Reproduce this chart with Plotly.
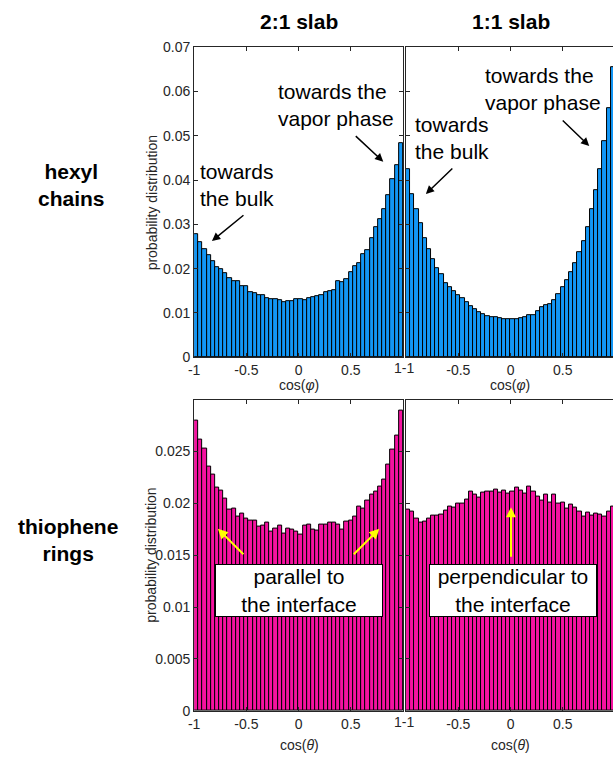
import numpy as np
import plotly.graph_objects as go

W, H = 613, 760

# ---------------- data ----------------
bin_edges = np.linspace(-1, 1, 51)
bin_centers = (bin_edges[:-1] + bin_edges[1:]) / 2

hexyl_21 = [0.0278, 0.0260, 0.0243, 0.0231, 0.0216, 0.0203, 0.0199, 0.0189, 0.0178, 0.0172,
            0.0171, 0.0160, 0.0160, 0.0147, 0.0145, 0.0141, 0.0139, 0.0133, 0.0130, 0.0130,
            0.0129, 0.0124, 0.0127, 0.0127, 0.0132, 0.0130, 0.0128, 0.0133, 0.0135, 0.0137,
            0.0139, 0.0147, 0.0148, 0.0152, 0.0171, 0.0170, 0.0177, 0.0193, 0.0206, 0.0212,
            0.0232, 0.0242, 0.0268, 0.0293, 0.0312, 0.0335, 0.0366, 0.0403, 0.0434, 0.0483]

hexyl_11 = [0.0424, 0.0368, 0.0334, 0.0302, 0.0269, 0.0243, 0.0222, 0.0201, 0.0187, 0.0168,
            0.0158, 0.0149, 0.0141, 0.0133, 0.0124, 0.0115, 0.0108, 0.0101, 0.0098, 0.0093,
            0.0091, 0.0090, 0.0088, 0.0087, 0.0087, 0.0086, 0.0087, 0.0088, 0.0091, 0.0096,
            0.0096, 0.0105, 0.0112, 0.0118, 0.0120, 0.0128, 0.0143, 0.0158, 0.0173, 0.0193,
            0.0213, 0.0237, 0.0262, 0.0293, 0.0335, 0.0378, 0.0424, 0.0488, 0.0562, 0.0654]

thio_21 = [0.0280, 0.0261, 0.0253, 0.0235, 0.0228, 0.0215, 0.0212, 0.0205, 0.0194, 0.0195,
           0.0187, 0.0190, 0.0185, 0.0183, 0.0183, 0.0178, 0.0179, 0.0181, 0.0173, 0.0176,
           0.0179, 0.0171, 0.0176, 0.0175, 0.0173, 0.0170, 0.0179, 0.0180, 0.0175, 0.0174,
           0.0180, 0.0180, 0.0181, 0.0181, 0.0180, 0.0175, 0.0182, 0.0183, 0.0187, 0.0197,
           0.0195, 0.0203, 0.0208, 0.0211, 0.0216, 0.0223, 0.0237, 0.0252, 0.0265, 0.0289]

thio_11 = [0.0194, 0.0192, 0.0185, 0.0181, 0.0182, 0.0185, 0.0188, 0.0188, 0.0189, 0.0193,
           0.0197, 0.0196, 0.0200, 0.0200, 0.0204, 0.0211, 0.0208, 0.0206, 0.0210, 0.0211,
           0.0211, 0.0213, 0.0210, 0.0212, 0.0209, 0.0211, 0.0215, 0.0212, 0.0209, 0.0216,
           0.0211, 0.0207, 0.0203, 0.0208, 0.0201, 0.0208, 0.0200, 0.0201, 0.0195, 0.0199,
           0.0196, 0.0192, 0.0187, 0.0191, 0.0188, 0.0190, 0.0189, 0.0187, 0.0192, 0.0197]

col_titles = ["2:1 slab", "1:1 slab"]
row_titles = ["hexyl<br>chains", "thiophene<br>rings"]
x_tickvals = [-1, -0.5, 0, 0.5, 1]
x_ticktext_left = ["-1", "-0.5", "0", "0.5", ""]
x_ticktext_right = ["", "-0.5", "0", "0.5", "1"]
seam_label = "1-1"
top_tickvals = [0, 0.01, 0.02, 0.03, 0.04, 0.05, 0.06, 0.07]
top_ticktext = ["0", "0.01", "0.02", "0.03", "0.04", "0.05", "0.06", "0.07"]
bot_tickvals = [0, 0.005, 0.01, 0.015, 0.02, 0.025]
bot_ticktext = ["0", "0.005", "0.01", "0.015", "0.02", "0.025"]

BLUE = "rgb(18,150,245)"
PINK = "rgb(245,18,160)"
AX = "#262626"
FONT = "Liberation Sans, Arial, sans-serif"

# ---------------- layout helpers (pixel -> paper) ----------------
def px(x):
    return x / W

def py(y):
    return 1 - y / H

L1, R1 = 190, 401
L2, R2 = 404, 613
T1, B1 = 40, 356.7
T2, B2 = 400, 718
units_per_px = 2 / (R1 - L1)
x2_max = -1 + (R2 - L2) * units_per_px

fig = go.Figure()

panels = [
    (hexyl_21, BLUE, "x", "y"),
    (hexyl_11, BLUE, "x2", "y2"),
    (thio_21, PINK, "x3", "y3"),
    (thio_11, PINK, "x4", "y4"),
]
for vals, col, xa, ya in panels:
    fig.add_trace(go.Bar(
        x=bin_centers, y=vals, width=0.04,
        marker=dict(color=col, line=dict(color="black", width=1)),
        xaxis=xa, yaxis=ya, showlegend=False, hoverinfo="skip"))

tickfont = dict(family=FONT, size=14, color=AX)

def xax(domain, rng, anchor, ticktext):
    return dict(domain=domain, range=rng, anchor=anchor, tickvals=x_tickvals,
                ticktext=ticktext, ticks="inside",
                ticklen=4, tickcolor=AX, showline=True, linecolor=AX, linewidth=1,
                mirror="ticks", showgrid=False, zeroline=False, tickfont=tickfont)

def yax(domain, rng, anchor, mirror, tv, tt, showlabels):
    return dict(domain=domain, range=rng, anchor=anchor, tickvals=tv, ticktext=tt,
                showticklabels=showlabels, ticks="inside", ticklen=4, tickcolor=AX,
                showline=True, linecolor=AX, linewidth=1, mirror=mirror,
                showgrid=False, zeroline=False, tickfont=tickfont)

fig.update_layout(
    width=W, height=H, margin=dict(l=0, r=0, t=0, b=0),
    paper_bgcolor="white", plot_bgcolor="white", bargap=0,
    xaxis=xax([px(L1), px(R1)], [-1, 1], "y", x_ticktext_left),
    yaxis=yax([py(B1), py(T1)], [0, 0.07], "x", "ticks", top_tickvals, top_ticktext, True),
    xaxis2=xax([px(L2), 1.0], [-1, x2_max], "y2", x_ticktext_right),
    yaxis2=yax([py(B1), py(T1)], [0, 0.07], "x2", False, top_tickvals, top_ticktext, False),
    xaxis3=xax([px(L1), px(R1)], [-1, 1], "y3", x_ticktext_left),
    yaxis3=yax([py(B2), py(T2)], [0, 0.03], "x3", "ticks", bot_tickvals, bot_ticktext, True),
    xaxis4=xax([px(L2), 1.0], [-1, x2_max], "y4", x_ticktext_right),
    yaxis4=yax([py(B2), py(T2)], [0, 0.03], "x4", False, bot_tickvals, bot_ticktext, False),
)

ann = []

def text(t, x, y, size, xanchor="center", yanchor="middle", bold=False, color="black",
         angle=0, align="center", **kw):
    ann.append(dict(text=f"<b>{t}</b>" if bold else t, x=px(x), y=py(y),
                    xref="paper", yref="paper", xanchor=xanchor, yanchor=yanchor,
                    showarrow=False, textangle=angle, align=align,
                    font=dict(family=FONT, size=size, color=color), **kw))

def arrow(head, tail, color, width, size):
    ann.append(dict(text="", x=px(head[0]), y=py(head[1]), xref="paper", yref="paper",
                    ax=tail[0] - head[0], ay=tail[1] - head[1], showarrow=True,
                    arrowhead=2, arrowsize=size, arrowwidth=width, arrowcolor=color,
                    standoff=0, startstandoff=0))

# column and row titles
text(col_titles[0], 296, 14, 21, bold=True)
text(col_titles[1], 510, 14, 21, bold=True)
text(row_titles[0], 66, 181, 21, bold=True)
text(row_titles[1], 63, 543, 21, bold=True)

# seam tick labels between the two columns
text(seam_label, 402, 368, 14, color=AX)
text(seam_label, 402, 729, 14, color=AX)

# axis titles
text("probability distribution", 147, 199, 14, angle=-90, color=AX)
text("probability distribution", 147, 559, 14, angle=-90, color=AX)
text("cos(<i>φ</i>)", 296, 385, 14, color=AX)
text("cos(<i>φ</i>)", 509, 385, 14, color=AX)
text("cos(<i>θ</i>)", 296, 753, 14, color=AX)
text("cos(<i>θ</i>)", 509, 753, 14, color=AX)

# hexyl annotations
text("towards<br>the bulk", 194, 181, 21, xanchor="left", align="left")
text("towards the<br>vapor phase", 273, 99, 21, xanchor="left", align="left")
text("towards<br>the bulk", 411, 133, 21, xanchor="left", align="left")
text("towards the<br>vapor phase", 482, 83, 21, xanchor="left", align="left")
arrow((208, 238), (241, 211), "black", 1.5, 1.1)
arrow((381, 157), (352, 130), "black", 1.5, 1.1)
arrow((424, 190), (452, 163), "black", 1.5, 1.1)
arrow((589, 141), (561, 114), "black", 1.5, 1.1)

# thiophene annotations
text("parallel to<br>the interface", 296, 595.5, 21, bgcolor="white",
     bordercolor="black", borderwidth=1, borderpad=0, width=166, height=51)
text("perpendicular to<br>the interface", 512, 595.5, 21, bgcolor="white",
     bordercolor="black", borderwidth=1, borderpad=0, width=166, height=51)
arrow((214, 532), (241, 559), "#FFFF00", 2, 1)
arrow((377, 532), (350, 559), "#FFFF00", 2, 1)
arrow((510, 510), (510, 561), "#FFFF00", 2, 1)

fig.update_layout(annotations=ann)
fig.write_html("out.html")
